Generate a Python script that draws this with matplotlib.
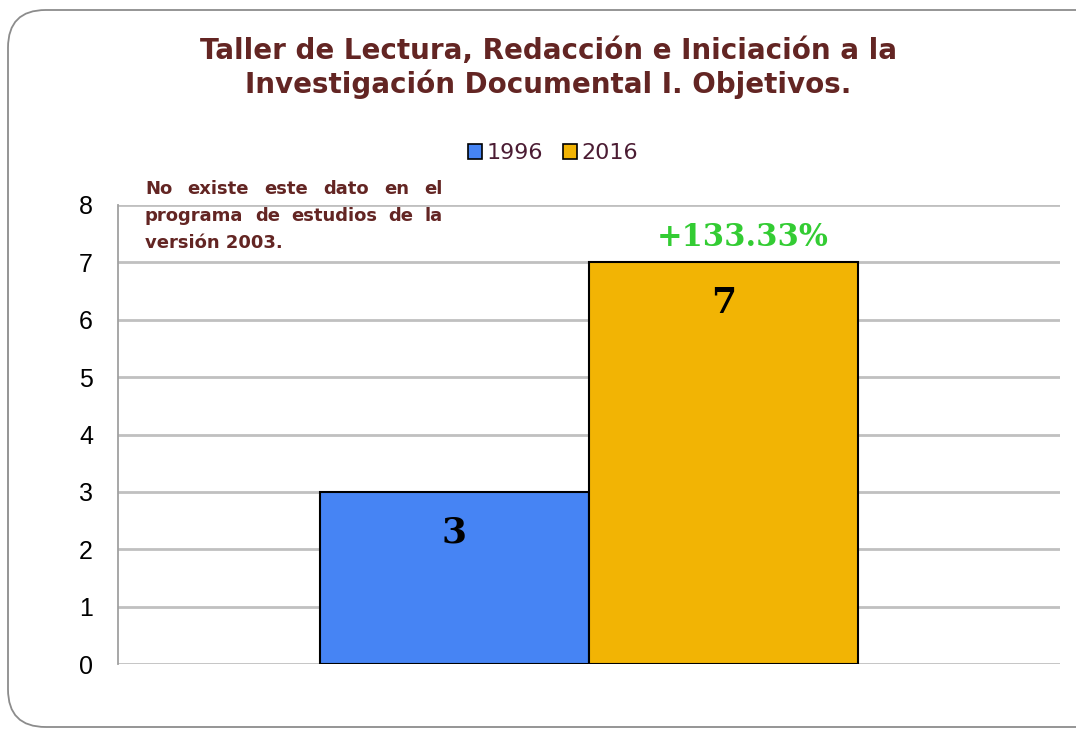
"""Bar chart: objetivos del taller, 1996 vs 2016."""

import matplotlib

matplotlib.use("Agg")
import matplotlib.pyplot as plt
from matplotlib.patches import FancyBboxPatch, Patch

TITLE = "Taller de Lectura, Redacción e Iniciación a la\nInvestigación Documental I. Objetivos."
SERIES = ["1996", "2016"]
VALUES = [3, 7]
COLORS = ["#4684f4", "#f2b404"]
CHANGE_LABEL = "+133.33%"
NOTE_LINES = [
    "No existe este dato en el",
    "programa de estudios de la",
    "versión 2003.",
]
YTICKS = [0, 1, 2, 3, 4, 5, 6, 7, 8]

DARK_RED = "#632523"
LEGEND_TXT = "#4b1c33"
GRID = "#c0c0c0"


def justified_note(fig, lines, x0, x1, y_top, line_h, **kw):
    """Draw lines word by word so they fill [x0, x1] (last line left aligned)."""
    renderer = fig.canvas.get_renderer()
    fig_w = fig.bbox.width
    for i, line in enumerate(lines):
        y = y_top - i * line_h
        words = line.split()
        if i == len(lines) - 1 or len(words) == 1:
            fig.text(x0, y, line, ha="left", va="top", **kw)
            continue
        widths = []
        for w in words:
            t = fig.text(0, 0, w, **kw)
            widths.append(t.get_window_extent(renderer).width / fig_w)
            t.remove()
        gap = (x1 - x0 - sum(widths)) / (len(words) - 1)
        x = x0
        for w, wd in zip(words, widths):
            fig.text(x, y, w, ha="left", va="top", **kw)
            x += wd + gap


fig = plt.figure(figsize=(10.76, 7.30), dpi=100)

# rounded frame of the chart area
frame = FancyBboxPatch(
    (8 / 1076, 3 / 730), 1.2, 717 / 730,
    boxstyle="round,pad=0,rounding_size=0.035",
    transform=fig.transFigure, facecolor="none", edgecolor="#8c8c8c",
    linewidth=1.3, mutation_aspect=1076 / 730, zorder=0,
)
fig.patches.append(frame)

ax = fig.add_axes([118 / 1076, 66 / 730, 942 / 1076, 459 / 730])
ax.set_facecolor("none")

bar_w = 0.2856
offsets = [-bar_w / 2, bar_w / 2]
for val, col, off in zip(VALUES, COLORS, offsets):
    ax.bar(off, val, width=bar_w, color=col, edgecolor="black", linewidth=1.5, zorder=3)
    ax.annotate(
        str(val), (off, val), xytext=(0, -29), textcoords="offset points",
        ha="center", va="center", fontsize=26, fontweight="bold",
        family="DejaVu Serif", color="black", zorder=4,
    )

ax.annotate(
    CHANGE_LABEL, (offsets[1], VALUES[1]), xytext=(14, 18), textcoords="offset points",
    ha="center", va="center", fontsize=22, fontweight="bold",
    family="DejaVu Serif", color="#33cc33", zorder=4,
)

ax.set_xlim(-0.5, 0.5)
ax.set_ylim(0, 8)
ax.set_yticks(YTICKS)
ax.set_xticks([])
ax.yaxis.grid(True, color=GRID, linewidth=2, zorder=0)
ax.tick_params(axis="y", length=0, pad=18, labelsize=18)
for lab in ax.get_yticklabels():
    lab.set_family("Liberation Sans")
for side in ["top", "right", "bottom"]:
    ax.spines[side].set_visible(False)
ax.spines["left"].set_color("#a0a0a0")
ax.spines["left"].set_linewidth(1.3)

fig.text(
    548 / 1076, 1 - 68 / 730, TITLE, ha="center", va="center",
    fontsize=20, fontweight="bold", color=DARK_RED, family="DejaVu Sans",
    linespacing=1.2,
)

handles = [Patch(facecolor=c, edgecolor="black", linewidth=1.2) for c in COLORS]
leg = fig.legend(
    handles, SERIES, loc="center", bbox_to_anchor=(553 / 1076, 1 - 153 / 730),
    ncol=2, frameon=False, fontsize=16, handlelength=0.65, handleheight=0.65,
    handletextpad=0.2, columnspacing=0.9,
)
for t in leg.get_texts():
    t.set_color(LEGEND_TXT)

justified_note(
    fig, NOTE_LINES, 145 / 1076, 443 / 1076, 1 - 180 / 730, 27 / 730,
    fontsize=13, fontweight="bold", color=DARK_RED, family="DejaVu Sans",
)

fig.savefig("out.png", dpi=100)
